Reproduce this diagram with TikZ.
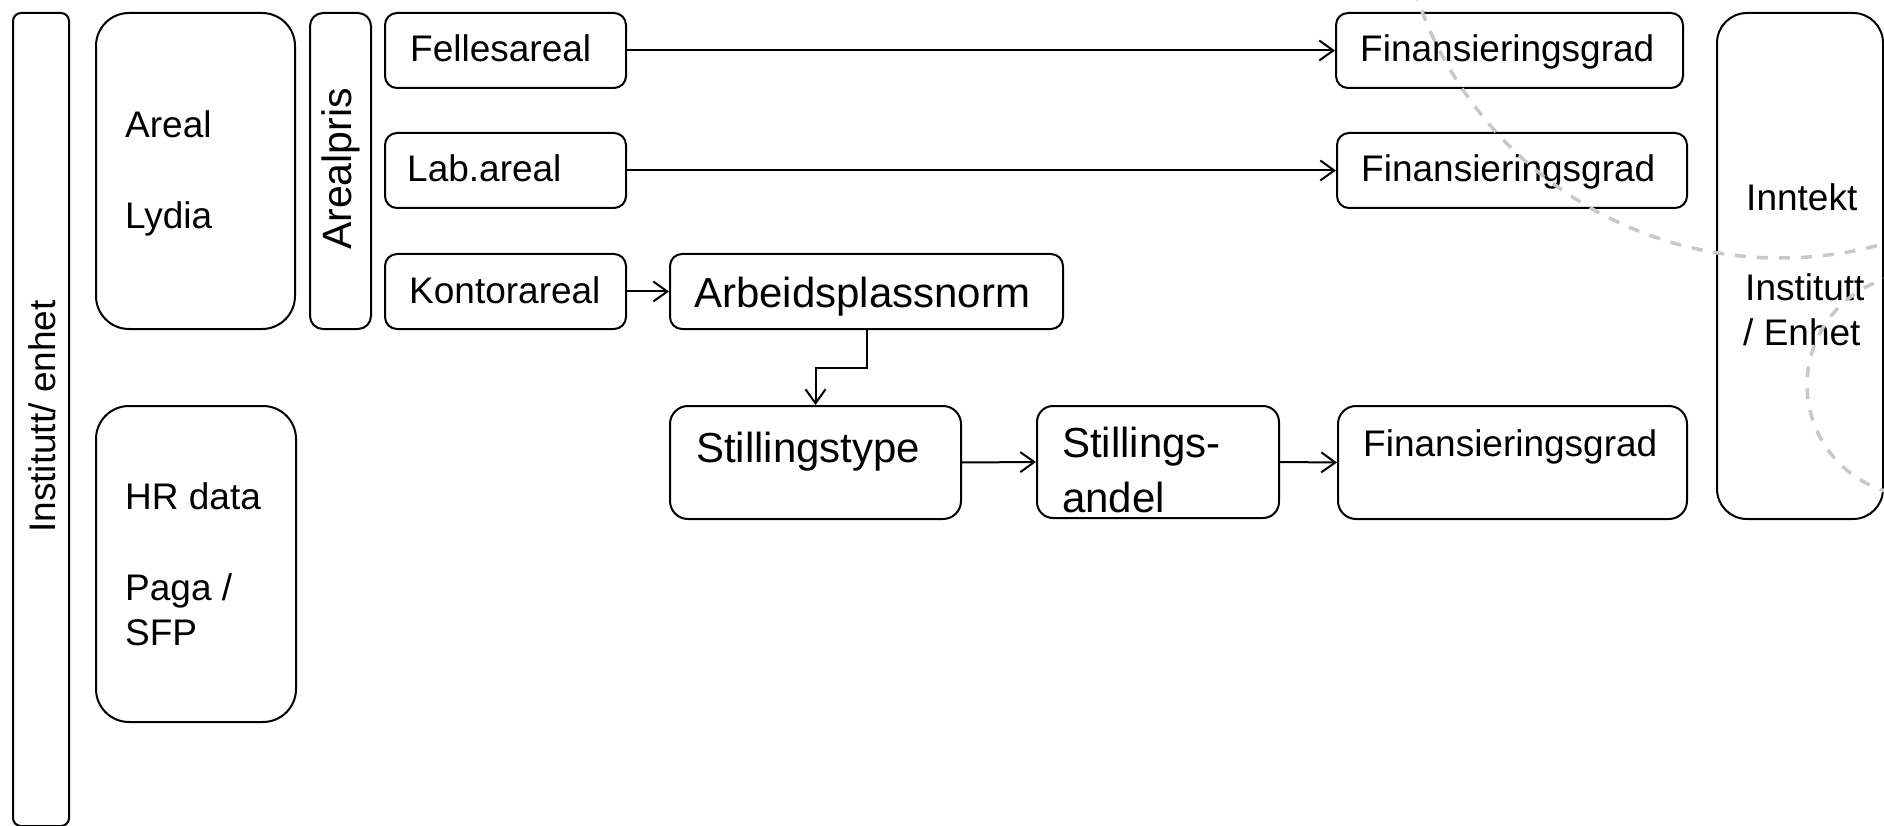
\documentclass[tikz,border=0pt]{standalone}
\usepackage{fontspec}
\setmainfont{Liberation Sans}
\usetikzlibrary{arrows.meta,calc}

\begin{document}
\begin{tikzpicture}[x=1pt,y=-1pt,
  box/.style={draw=black, line width=2pt, rounded corners=#1, inner sep=0pt,
    anchor=north west},
  box/.default=12pt,
  txt/.style={inner sep=0pt, anchor=base west,
    font=\fontsize{37}{44}\selectfont},
  bigtxt/.style={inner sep=0pt, anchor=base west,
    font=\fontsize{42}{50}\selectfont},
  conn/.style={draw=black, line width=2pt,
    -{Straight Barb[length=14pt,width=20pt,line width=2pt]}},
  arcline/.style={draw={rgb,255:red,200;green,200;blue,200}, line width=3.5pt,
    dash pattern=on 11pt off 11pt},
]
\useasboundingbox (0,0) rectangle (1884,826);

% left-hand source columns
\node[box=8pt,  minimum width=56pt,  minimum height=813pt] (inst)   at (12,12)  {};
\node[box=33pt, minimum width=199pt, minimum height=316pt] (areal)  at (95,12)  {};
\node[box=33pt, minimum width=200pt, minimum height=316pt] (hr)     at (95,405) {};
\node[box=13pt, minimum width=61pt,  minimum height=316pt] (pris)   at (309,12) {};

% area categories
\node[box, minimum width=241pt, minimum height=75pt] (felles) at (384,12)  {};
\node[box, minimum width=241pt, minimum height=75pt] (lab)    at (384,132) {};
\node[box, minimum width=241pt, minimum height=75pt] (kontor) at (384,253) {};

% staffing chain
\node[box, minimum width=393pt, minimum height=75pt]        (arb) at (669,253)  {};
\node[box=18pt, minimum width=291pt, minimum height=113pt]  (st)  at (669,405)  {};
\node[box=16pt, minimum width=242pt, minimum height=112pt]  (sa)  at (1036,405) {};

% funding degree boxes
\node[box, minimum width=347pt, minimum height=75pt]        (fin1) at (1335,12)  {};
\node[box, minimum width=350pt, minimum height=75pt]        (fin2) at (1336,132) {};
\node[box=18pt, minimum width=349pt, minimum height=113pt]  (fin3) at (1337,405) {};

% income column
\node[box=30pt, minimum width=166pt, minimum height=506pt] (inn) at (1716,12) {};

% labels
\node[txt, rotate=90] (inst-t) at (55,533) {Institutt/ enhet};
\node[txt] (areal-t1) at (125,138) {Areal};
\node[txt] (areal-t2) at (125,229) {Lydia};
\node[txt] (hr-t1) at (125,509) {HR data};
\node[txt] (hr-t2) at (125,600) {Paga /};
\node[txt] (hr-t3) at (125,645) {SFP};
\node[bigtxt, rotate=90, font=\fontsize{41}{49}\selectfont] (pris-t) at (351,250) {Arealpris};

\node[txt] (felles-t) at (410,62)  {Fellesareal};
\node[txt] (lab-t)    at (407,182) {Lab.areal};
\node[txt] (kontor-t) at (409,303) {Kontorareal};

\node[bigtxt] (arb-t) at (694,307)  {Arbeidsplassnorm};
\node[bigtxt] (st-t)  at (696,462)  {Stillingstype};
\node[bigtxt] (sa-t1) at (1062,457) {Stillings-};
\node[bigtxt] (sa-t2) at (1062,512) {andel};

\node[txt] (fin1-t) at (1360,62)  {Finansieringsgrad};
\node[txt] (fin2-t) at (1361,182) {Finansieringsgrad};
\node[txt] (fin3-t) at (1363,456) {Finansieringsgrad};

\node[txt] (inn-t1) at (1746,211) {Inntekt};
\node[txt] (inn-t2) at (1745,301) {Institutt};
\node[txt] (inn-t3) at (1743,345) {/ Enhet};

% connectors
\draw[conn] (felles.east) -- (fin1.west);
\draw[conn] (lab.east) -- (fin2.west);
\draw[conn] (kontor.east) -- (arb.west);
\coordinate (bend) at ($(arb.south)!0.5!(st.north)$);
\draw[conn] (arb.south) -- (arb.south |- bend) -| (st.north);
\draw[conn] (st.east) -- (sa.west);
\draw[conn] (sa.east) -- (fin3.west);

% dashed guide arcs
\begin{scope}
  \clip (0,0) rectangle (1884,826);
  \draw[arcline] (1780,-125) circle[radius=383pt];
  \draw[arcline] (1918,385) circle[radius=111pt];
\end{scope}
\end{tikzpicture}
\end{document}
